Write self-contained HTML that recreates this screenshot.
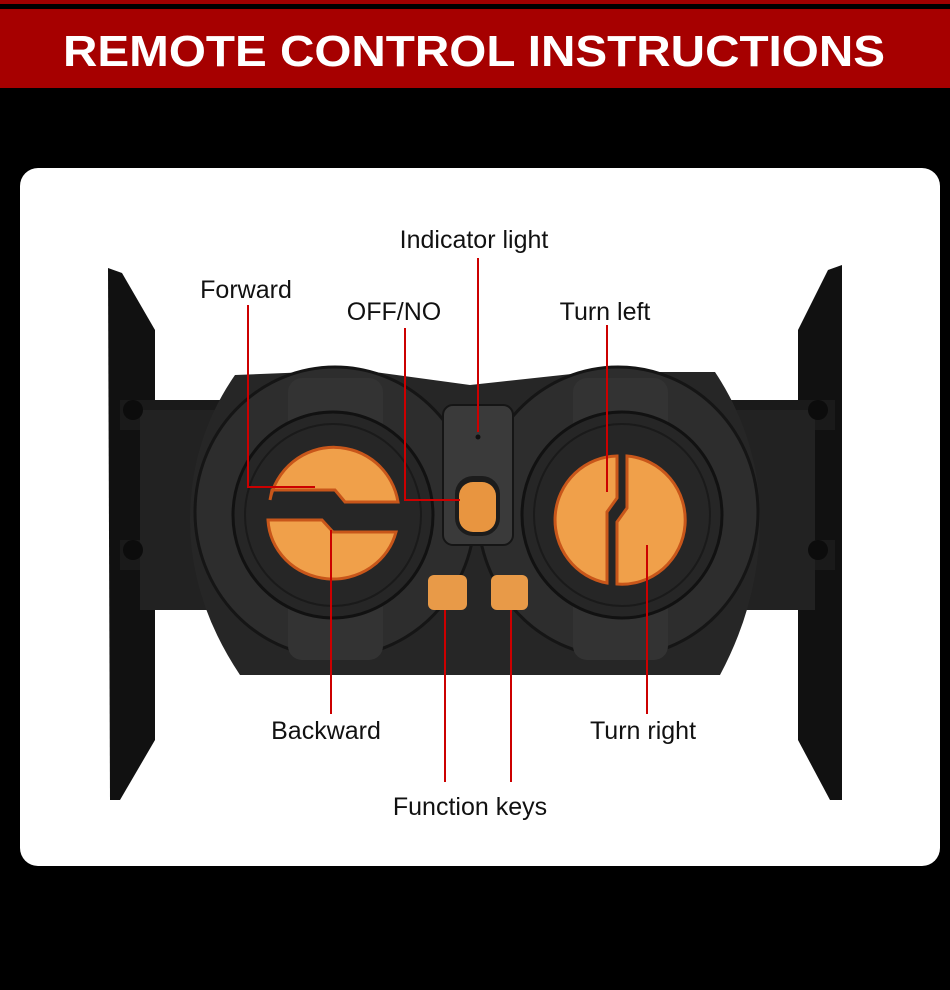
<!DOCTYPE html>
<html><head><meta charset="utf-8"><style>
html,body{margin:0;padding:0;background:#000;width:950px;height:990px;overflow:hidden}
svg{display:block}
text{font-family:"Liberation Sans",sans-serif}
</style></head><body>
<svg width="950" height="990" viewBox="0 0 950 990">
<rect width="950" height="990" fill="#000"/>
<rect x="0" y="0" width="950" height="4" fill="#a00000"/>
<rect x="0" y="9" width="950" height="79" fill="#a60000"/>
<text x="474" y="66" text-anchor="middle" fill="#fff" font-size="44" font-weight="bold" textLength="822" lengthAdjust="spacingAndGlyphs">REMOTE CONTROL INSTRUCTIONS</text>
<rect x="20" y="168" width="920" height="698" rx="18" fill="#fff"/>
<!-- side plates -->
<path d="M108 268 L122 273 L155 330 L155 740 L120 800 L110 800 Z" fill="#111"/>
<path d="M842 265 L828 270 L798 330 L798 740 L830 800 L842 800 Z" fill="#111"/>
<rect x="120" y="400" width="715" height="30" fill="#1a1a1a"/>
<rect x="120" y="540" width="715" height="30" fill="#1a1a1a"/>
<rect x="140" y="410" width="80" height="200" fill="#222"/>
<rect x="735" y="410" width="80" height="200" fill="#222"/>
<circle cx="133" cy="410" r="10" fill="#0c0c0c"/><circle cx="133" cy="550" r="10" fill="#0c0c0c"/>
<circle cx="818" cy="410" r="10" fill="#0c0c0c"/><circle cx="818" cy="550" r="10" fill="#0c0c0c"/>
<!-- body -->
<path d="M235 375 L360 370 L470 385 L590 372 L715 372 Q760 440 760 520 Q760 600 720 675 L240 675 Q190 600 190 520 Q190 440 235 375 Z" fill="#262626"/>
<ellipse cx="335" cy="512" rx="140" ry="145" fill="#2d2d2d" stroke="#151515" stroke-width="3"/>
<ellipse cx="618" cy="512" rx="140" ry="145" fill="#2d2d2d" stroke="#151515" stroke-width="3"/>
<rect x="288" y="378" width="95" height="80" rx="14" fill="#333"/>
<rect x="288" y="590" width="95" height="70" rx="14" fill="#333"/>
<rect x="573" y="378" width="95" height="80" rx="14" fill="#333"/>
<rect x="573" y="590" width="95" height="70" rx="14" fill="#333"/>
<ellipse cx="333" cy="515" rx="100" ry="103" fill="#262626" stroke="#111" stroke-width="3"/>
<ellipse cx="333" cy="515" rx="88" ry="91" fill="none" stroke="#1a1a1a" stroke-width="2"/>
<ellipse cx="622" cy="515" rx="100" ry="103" fill="#262626" stroke="#111" stroke-width="3"/>
<ellipse cx="622" cy="515" rx="88" ry="91" fill="none" stroke="#1a1a1a" stroke-width="2"/>
<!-- left buttons -->
<path d="M270 500 A65 65 0 0 1 398 502 L345 502 L335 490 L272 490 Z" fill="#f0a04a" stroke="#c8561a" stroke-width="3"/>
<path d="M268 520 L322 520 L333 532 L396 532 A65 62 0 0 1 268 520 Z" fill="#f0a04a" stroke="#c8561a" stroke-width="3"/>
<!-- right buttons -->
<path d="M617 456 L617 498 L607 512 L607 583 A63 64 0 0 1 617 456 Z" fill="#f0a04a" stroke="#c8561a" stroke-width="3"/>
<path d="M627 456 A63 64 0 0 1 617 584 L617 522 L627 508 Z" fill="#f0a04a" stroke="#c8561a" stroke-width="3"/>
<!-- center slot -->
<rect x="443" y="405" width="70" height="140" rx="10" fill="#3a3a3a" stroke="#151515" stroke-width="2"/>
<circle cx="478" cy="437" r="2.5" fill="#111"/>
<rect x="455" y="476" width="45" height="60" rx="18" fill="#1c1c1c"/>
<rect x="459" y="482" width="37" height="50" rx="14" fill="#e89540"/>
<rect x="428" y="575" width="39" height="35" rx="6" fill="#e89a48"/>
<rect x="491" y="575" width="37" height="35" rx="6" fill="#e89a48"/>
<!-- leader lines -->
<g stroke="#cc0000" stroke-width="2" fill="none">
<path d="M248 305 V487 H315"/>
<path d="M478 258 V432"/>
<path d="M405 328 V500 H460"/>
<path d="M607 325 V492"/>
<path d="M331 530 V714"/>
<path d="M647 545 V714"/>
<path d="M445 610 V782"/>
<path d="M511 610 V782"/>
</g>
<g font-size="25" fill="#111" text-anchor="middle">
<text x="474" y="248">Indicator light</text>
<text x="246" y="298">Forward</text>
<text x="394" y="320">OFF/NO</text>
<text x="605" y="320">Turn left</text>
<text x="326" y="739">Backward</text>
<text x="643" y="739">Turn right</text>
<text x="470" y="815">Function keys</text>
</g>
</svg>
</body></html>
